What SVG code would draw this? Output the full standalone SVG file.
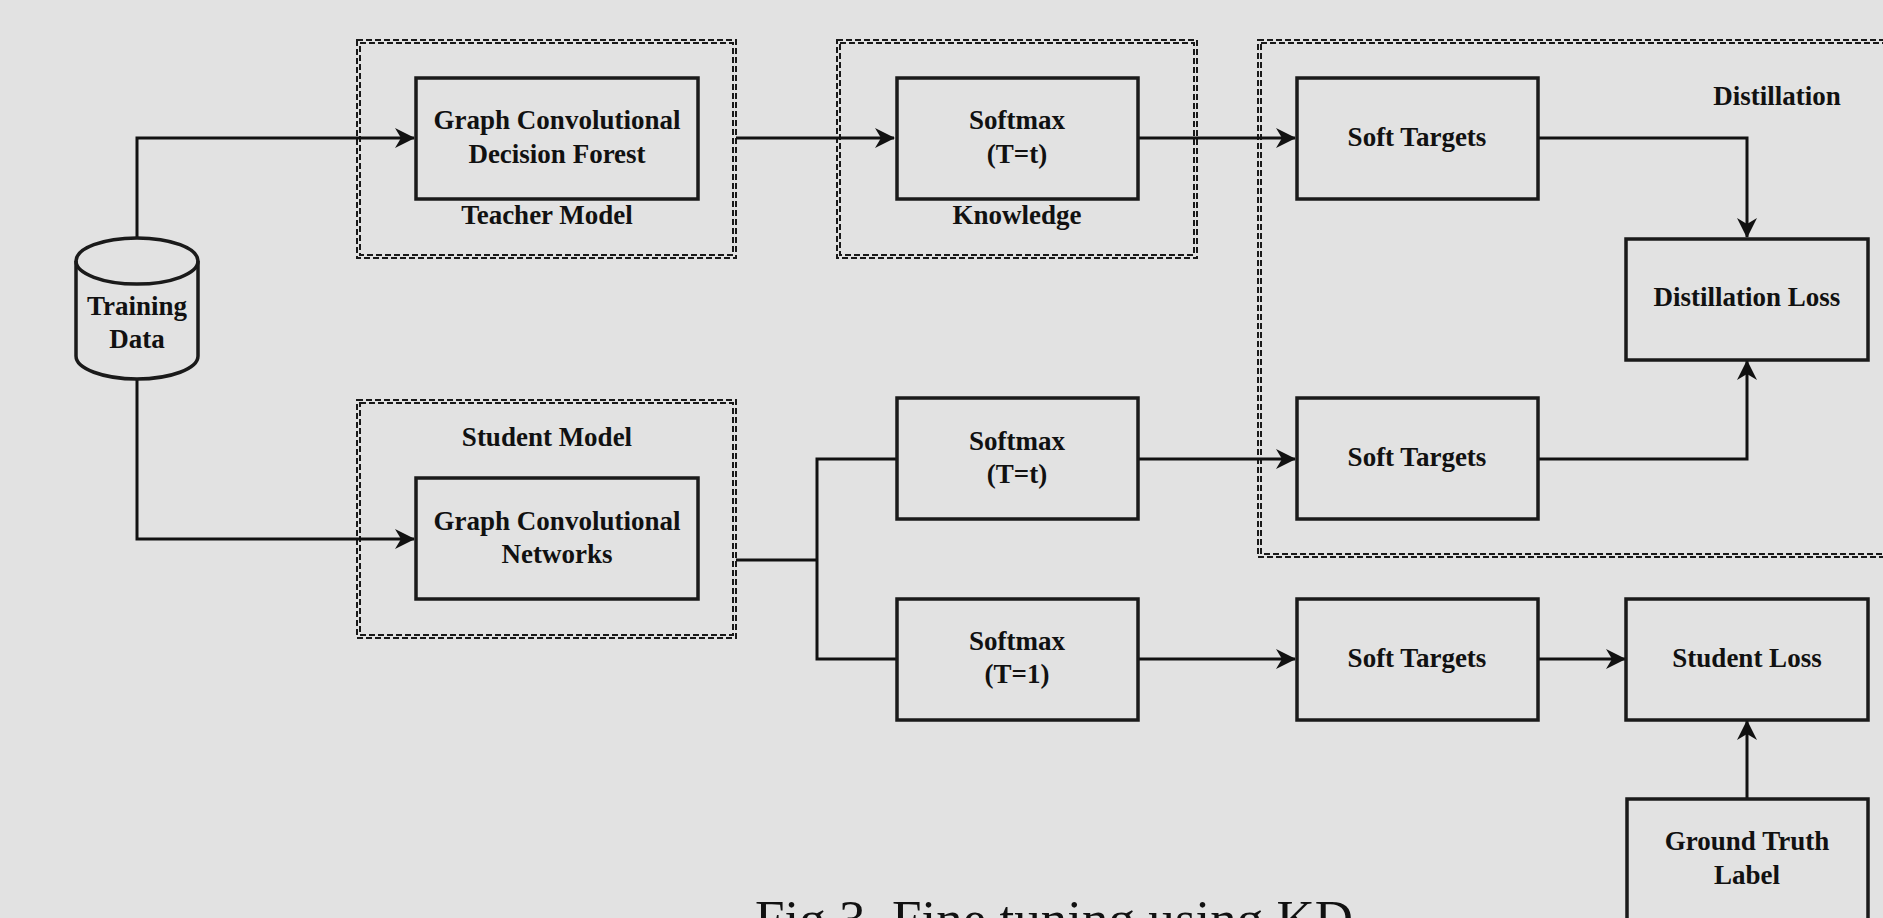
<svg xmlns="http://www.w3.org/2000/svg" width="1883" height="918" viewBox="0 0 1883 918">
<defs>
<style>
.bg{fill:#e2e2e2}
.box{fill:none;stroke:#1a1a1a;stroke-width:3.5}
.grp{fill:none;stroke:#1a1a1a;stroke-width:2;stroke-dasharray:6 3}
.t{font-family:"Liberation Serif","Times New Roman",serif;font-weight:bold;font-size:27px;fill:#111;text-anchor:middle}
.cap{font-family:"Liberation Serif","Times New Roman",serif;font-size:53px;fill:#111}
.c{fill:none;stroke:#111;stroke-width:3}
</style>
<marker id="ah" markerUnits="userSpaceOnUse" markerWidth="22" markerHeight="22" refX="19" refY="10" orient="auto">
<path d="M0,0 L20,10 L0,20 L6,10 z" fill="#111"/>
</marker>
</defs>
<rect class="bg" x="0" y="0" width="1883" height="918"/>

<g id="group-teacher">
<rect class="grp" x="357" y="40" width="379" height="218"/>
<rect class="grp" x="360" y="43" width="373" height="212"/>
<text class="t" x="547" y="224">Teacher Model</text>
</g>
<g id="group-knowledge">
<rect class="grp" x="837" y="40" width="360" height="218"/>
<rect class="grp" x="840" y="43" width="354" height="212"/>
<text class="t" x="1017" y="224">Knowledge</text>
</g>
<g id="group-student">
<rect class="grp" x="357" y="400" width="379" height="238"/>
<rect class="grp" x="360" y="403" width="373" height="232"/>
<text class="t" x="547" y="446">Student Model</text>
</g>
<g id="group-distillation">
<rect class="grp" x="1258" y="40" width="640" height="517"/>
<rect class="grp" x="1261" y="43" width="640" height="511"/>
<text class="t" x="1777" y="105">Distillation</text>
</g>

<g id="connectors">
<path class="c" d="M137,238 V138 H414" marker-end="url(#ah)"/>
<path class="c" d="M137,379 V539 H414" marker-end="url(#ah)"/>
<path class="c" d="M736,138 H894" marker-end="url(#ah)"/>
<path class="c" d="M1138,138 H1295" marker-end="url(#ah)"/>
<path class="c" d="M1538,138 H1747 V237" marker-end="url(#ah)"/>
<path class="c" d="M1538,459 H1747 V361" marker-end="url(#ah)"/>
<path class="c" d="M736,560 H817"/>
<path class="c" d="M897,459 H817 V659 H897"/>
<path class="c" d="M1138,459 H1295" marker-end="url(#ah)"/>
<path class="c" d="M1138,659 H1295" marker-end="url(#ah)"/>
<path class="c" d="M1538,659 H1625" marker-end="url(#ah)"/>
<path class="c" d="M1747,799 V721" marker-end="url(#ah)"/>
</g>

<g id="training-data">
<path class="box" d="M76,261 V356 A61,23 0 0 0 198,356 V261"/>
<ellipse class="box" cx="137" cy="261" rx="61" ry="23"/>
<text class="t" x="137" y="315">Training</text>
<text class="t" x="137" y="348">Data</text>
</g>

<g id="gcdf">
<rect class="box" x="416" y="78" width="282" height="121"/>
<text class="t" x="557" y="129">Graph Convolutional</text>
<text class="t" x="557" y="163">Decision Forest</text>
</g>
<g id="softmax-teacher">
<rect class="box" x="897" y="78" width="241" height="121"/>
<text class="t" x="1017" y="129">Softmax</text>
<text class="t" x="1017" y="163">(T=t)</text>
</g>
<g id="soft-targets-1">
<rect class="box" x="1297" y="78" width="241" height="121"/>
<text class="t" x="1417" y="146">Soft Targets</text>
</g>
<g id="distillation-loss">
<rect class="box" x="1626" y="239" width="242" height="121"/>
<text class="t" x="1747" y="306">Distillation Loss</text>
</g>
<g id="gcn">
<rect class="box" x="416" y="478" width="282" height="121"/>
<text class="t" x="557" y="530">Graph Convolutional</text>
<text class="t" x="557" y="563">Networks</text>
</g>
<g id="softmax-student-t">
<rect class="box" x="897" y="398" width="241" height="121"/>
<text class="t" x="1017" y="450">Softmax</text>
<text class="t" x="1017" y="483">(T=t)</text>
</g>
<g id="soft-targets-2">
<rect class="box" x="1297" y="398" width="241" height="121"/>
<text class="t" x="1417" y="466">Soft Targets</text>
</g>
<g id="softmax-student-1">
<rect class="box" x="897" y="599" width="241" height="121"/>
<text class="t" x="1017" y="650">Softmax</text>
<text class="t" x="1017" y="683">(T=1)</text>
</g>
<g id="soft-targets-3">
<rect class="box" x="1297" y="599" width="241" height="121"/>
<text class="t" x="1417" y="667">Soft Targets</text>
</g>
<g id="student-loss">
<rect class="box" x="1626" y="599" width="242" height="121"/>
<text class="t" x="1747" y="667">Student Loss</text>
</g>
<g id="ground-truth">
<rect class="box" x="1627" y="799" width="241" height="130"/>
<text class="t" x="1747" y="850">Ground Truth</text>
<text class="t" x="1747" y="884">Label</text>
</g>

<text class="cap" x="755" y="937" textLength="598" lengthAdjust="spacing">Fig.3.  Fine tuning using KD</text>
</svg>
